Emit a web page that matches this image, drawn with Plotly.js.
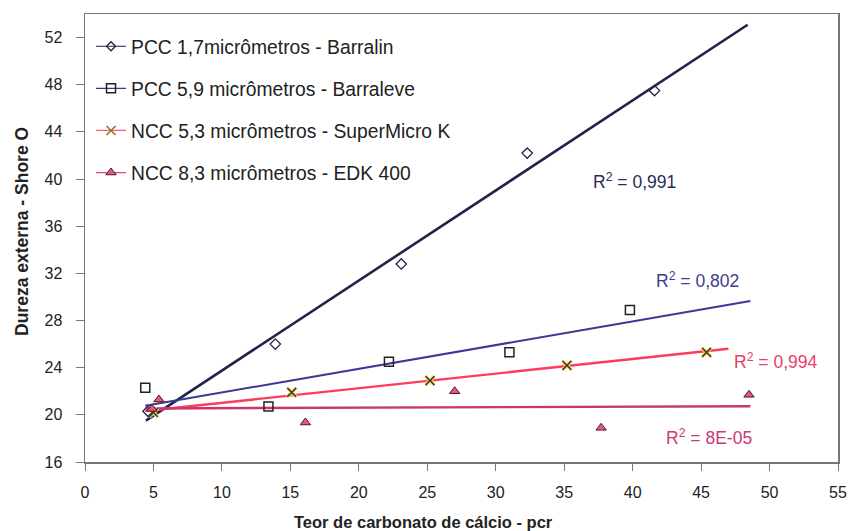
<!DOCTYPE html>
<html>
<head>
<meta charset="utf-8">
<script src="https://cdn.plot.ly/plotly-3.0.1.min.js"></script>
<style>html,body{margin:0;padding:0;background:#fff;}#chart{width:851px;height:531px;}</style>
</head>
<body>
<div id="chart"></div>
<script>
// ---- data ----
const seriesNames = [
  "PCC 1,7micrômetros - Barralin",
  "PCC 5,9 micrômetros - Barraleve",
  "NCC 5,3 micrômetros - SuperMicro K",
  "NCC 8,3 micrômetros - EDK 400"
];
const pcc17X = [4.6, 13.9, 23.1, 32.3, 41.6];
const pcc17Y = [20.3, 26.0, 32.8, 42.2, 47.5];
const pcc59X = [4.4, 13.4, 22.2, 31.0, 39.8];
const pcc59Y = [22.3, 20.7, 24.5, 25.3, 28.9];
const ncc53X = [5.0, 15.1, 25.2, 35.2, 45.4];
const ncc53Y = [20.2, 21.9, 22.9, 24.2, 25.3];
const ncc83X = [4.9, 5.4, 16.1, 27.0, 37.7, 48.5];
const ncc83Y = [20.5, 21.3, 19.35, 22.0, 18.9, 21.7];
// trendline extents (x from / to, incl. forecast)
const trendFrom = [4.45, 4.4, 4.4, 4.4];
const trendTo = [48.4, 48.6, 47.0, 48.6];
const r2Labels = ["R<sup>2</sup> = 0,991", "R<sup>2</sup> = 0,802", "R<sup>2</sup> = 0,994", "R<sup>2</sup> = 8E-05"];
const r2LabelX = [40.1, 44.75, 50.4, 45.55];
const r2LabelY = [39.8, 31.4, 24.6, 18.1];
const xTicks = [0,5,10,15,20,25,30,35,40,45,50,55];
const yTicks = [16,20,24,28,32,36,40,44,48,52];
const xTitle = "Teor de carbonato de cálcio - pcr";
const yTitle = "Dureza externa - Shore O";

function linfit(xs, ys){
  const n = xs.length;
  const mx = xs.reduce((a,b)=>a+b,0)/n, my = ys.reduce((a,b)=>a+b,0)/n;
  let sxy=0, sxx=0;
  for(let i=0;i<n;i++){sxy+=(xs[i]-mx)*(ys[i]-my); sxx+=(xs[i]-mx)**2;}
  const b = sxy/sxx; return {a: my-b*mx, b: b};
}

const allX = [pcc17X, pcc59X, ncc53X, ncc83X];
const allY = [pcc17Y, pcc59Y, ncc53Y, ncc83Y];
const lineColors = ["#23234a", "#3a3a96", "#ff3a5c", "#c8386a"];
const labelColors = ["#2b2b55", "#3d3d8c", "#e8406a", "#c83a78"];
const lineWidths = [2.6, 2.0, 2.4, 2.4];
const markerDefs = [
  {symbol:"diamond-open", size:8, color:"#23234a", line:{width:1.3, color:"#23234a"}},
  {symbol:"square-open", size:9, color:"#222222", line:{width:1.5, color:"#222222"}},
  {symbol:"x-thin", size:9, color:"#333333", line:{width:1.6, color:"#4a3a30"}},
  {symbol:"triangle-up", size:9, color:"#e25a78", line:{width:1, color:"#4a1a2a"}}
];
const legendLineColors = ["#23234a", "#3a3a70", "#ff5a70", "#e04a6a"];

const traces = [];
for(let i=0;i<4;i++){
  const f = linfit(allX[i], allY[i]);
  traces.push({x:[trendFrom[i], trendTo[i]], y:[f.a+f.b*trendFrom[i], f.a+f.b*trendTo[i]],
    mode:"lines", line:{color:lineColors[i], width:lineWidths[i]}, showlegend:false, hoverinfo:"skip"});
}
traces.push({x:ncc53X, y:ncc53Y, mode:"markers", showlegend:false,
  marker:{symbol:"x-thin", size:9, line:{width:4, color:"rgba(255,235,90,0.8)"}}});
for(let i=0;i<4;i++){
  traces.push({x:allX[i], y:allY[i], mode:"markers", marker:markerDefs[i], showlegend:false});
}
for(let i=0;i<4;i++){
  const m = Object.assign({}, markerDefs[i]);
  if(i===2){ m.line = {width:1.6, color:"#8a7a20"}; }
  if(i===0){ m.size = 7; }
  traces.push({x:[null], y:[null], mode:"lines+markers", name:seriesNames[i], legendgroup:"g"+i,
    line:{color:legendLineColors[i], width:1.2}, marker:m});
}

const annotations = r2Labels.map((t,i)=>({x:r2LabelX[i], y:r2LabelY[i], xref:"x", yref:"y", text:t,
  showarrow:false, font:{size:17.5, color:labelColors[i]}}));
annotations.push({xref:"paper", yref:"paper", x:0.450, y:-0.134, xanchor:"center", yanchor:"middle",
  text:"<b>"+xTitle+"</b>", showarrow:false, font:{size:16.5, color:"#222"}});
annotations.push({xref:"paper", yref:"paper", x:-0.0837, y:0.5156, xanchor:"center", yanchor:"middle",
  text:"<b>"+yTitle+"</b>", textangle:-90, showarrow:false, font:{size:17.5, color:"#222"}});

const layout = {
  width:851, height:531,
  margin:{l:85, r:13, t:14, b:69},
  paper_bgcolor:"#ffffff", plot_bgcolor:"#ffffff",
  font:{family:"Liberation Sans, Arial, sans-serif", size:16, color:"#222"},
  showlegend:true,
  legend:{x:0.008, y:0.9705, xanchor:"left", yanchor:"top", bgcolor:"rgba(0,0,0,0)",
    font:{size:19.3, color:"#222"}, tracegroupgap:14, itemwidth:30},
  xaxis:{range:[0,55], tickvals:xTicks, ticks:"outside", ticklen:7, tickcolor:"#777",
    ticklabelstandoff:8,
    showline:true, linecolor:"#777", linewidth:1.5, mirror:true, showgrid:false, zeroline:false,
    tickfont:{size:16, color:"#222"}},
  yaxis:{range:[16,54], tickvals:yTicks, ticks:"outside", ticklen:8, tickcolor:"#777",
    ticklabelstandoff:10,
    showline:true, linecolor:"#777", linewidth:1.5, mirror:true, showgrid:false, zeroline:false,
    tickfont:{size:16, color:"#222"}},
  annotations: annotations
};
Plotly.newPlot("chart", traces, layout, {displayModeBar:false, staticPlot:true});
</script>
</body>
</html>
